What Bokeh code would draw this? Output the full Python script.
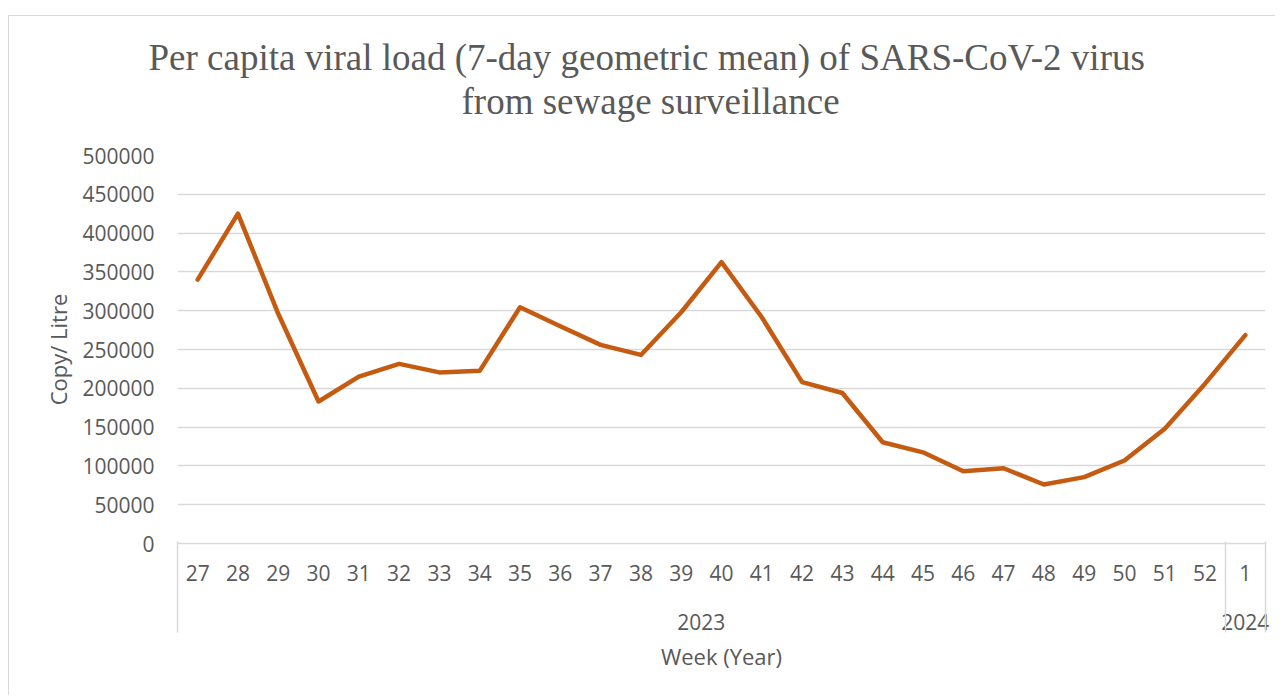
from bokeh.plotting import figure
from bokeh.models import Range1d, FixedTicker, BasicTickFormatter, Title, LinearAxis
from bokeh.embed import file_html
from bokeh.resources import INLINE

# ---- data ----
weeks = ["27", "28", "29", "30", "31", "32", "33", "34", "35", "36", "37", "38", "39",
         "40", "41", "42", "43", "44", "45", "46", "47", "48", "49", "50", "51", "52", "1"]
years = ["2023"] * 26 + ["2024"]
viral_load = [340000, 425000, 296000, 183000, 215000, 231500, 220500, 222500, 304500,
              280000, 256000, 243000, 298000, 362500, 291500, 208000, 194000, 130500,
              117500, 93000, 97000, 76000, 85500, 107000, 148000, 206000, 268500]
y_ticks = [0, 50000, 100000, 150000, 200000, 250000, 300000, 350000, 400000, 450000, 500000]
title_lines = ["Per capita viral load (7-day geometric mean) of SARS-CoV-2 virus",
               "from sewage surveillance"]
x_title = "Week (Year)"
y_title = "Copy/ Litre"

# category slots: each week occupies one unit, the point sits at the slot centre
n = len(weeks)
x_pos = [i + 0.5 for i in range(n)]
year_names = list(dict.fromkeys(years))
year_first = [years.index(y) for y in year_names]
year_count = [years.count(y) for y in year_names]
year_pos = [f + c / 2 for f, c in zip(year_first, year_count)]
edges = [0] + [f + c for f, c in zip(year_first, year_count)]

TXT = "#595959"
GRID = "#d9d9d9"
LINE = "#c55a11"
SANS = "Open Sans"

p = figure(width=1267, height=680, output_backend="svg", toolbar_location=None,
           x_range=Range1d(0, n), y_range=Range1d(0, 500000),
           min_border_left=168, min_border_right=11, min_border_top=139, min_border_bottom=153)
p.margin = (15, 0, 0, 8)
p.styles = {"border-top": "1px solid #d9d9d9", "border-left": "1px solid #d9d9d9"}
p.outline_line_color = None
p.background_fill_color = "white"
p.border_fill_color = "white"

p.line(x=x_pos, y=viral_load, line_color=LINE, line_width=4.5, line_join="round", line_cap="round")

# y axis
p.yaxis.ticker = FixedTicker(ticks=y_ticks)
p.yaxis.formatter = BasicTickFormatter(use_scientific=False)
p.yaxis.axis_line_color = None
p.yaxis.major_tick_line_color = None
p.yaxis.minor_tick_line_color = None
p.yaxis.major_label_text_font = SANS
p.yaxis.major_label_text_font_size = "21px"
p.yaxis.major_label_text_color = TXT
p.yaxis.major_label_standoff = 17
p.yaxis.axis_label = y_title
p.yaxis.axis_label_text_font = SANS
p.yaxis.axis_label_text_font_size = "22px"
p.yaxis.axis_label_text_font_style = "normal"
p.yaxis.axis_label_text_color = TXT
p.yaxis.axis_label_standoff = 6

# x axis level 1: weeks
xa = p.xaxis[0]
xa.ticker = FixedTicker(ticks=x_pos)
xa.major_label_overrides = {x: w for x, w in zip(x_pos, weeks)}
xa.axis_line_color = GRID
xa.axis_line_width = 1.5
xa.major_tick_line_color = None
xa.minor_tick_line_color = None
xa.major_label_text_font = SANS
xa.major_label_text_font_size = "21px"
xa.major_label_text_color = TXT
xa.major_label_standoff = 15

# x axis level 2: years
ya = LinearAxis(ticker=FixedTicker(ticks=year_pos),
                major_label_overrides={x: y for x, y in zip(year_pos, year_names)},
                axis_line_color=None, major_tick_line_color=None, minor_tick_line_color=None,
                major_label_text_font=SANS, major_label_text_font_size="21px",
                major_label_text_color=TXT, major_label_standoff=24)
p.add_layout(ya, "below")

# x axis level 3: separators between year groups + axis title
ea = LinearAxis(ticker=FixedTicker(ticks=edges),
                major_label_overrides={e: "" for e in edges},
                axis_line_color=None, major_tick_in=91, major_tick_out=0,
                major_tick_line_color=GRID, major_tick_line_width=1.5,
                minor_tick_line_color=None, major_label_text_font_size="1px",
                major_label_standoff=0,
                axis_label=x_title, axis_label_text_font=SANS, axis_label_text_font_size="22px",
                axis_label_text_font_style="normal", axis_label_text_color=TXT,
                axis_label_standoff=8)
p.add_layout(ea, "below")

p.xgrid.grid_line_color = None
p.ygrid.grid_line_color = GRID
p.ygrid.grid_line_width = 1.5

# title: two lines, second line added first (closest to the plot)
p.add_layout(Title(text=title_lines[1], align="left", offset=284, standoff=68,
                   text_font="Liberation Serif", text_font_size="37px",
                   text_font_style="normal", text_color=TXT), "above")
p.add_layout(Title(text=title_lines[0], align="left", offset=-29, standoff=-66,
                   text_font="Liberation Serif", text_font_size="37px",
                   text_font_style="normal", text_color=TXT), "above")

open("out.html", "w").write(file_html(p, INLINE))
